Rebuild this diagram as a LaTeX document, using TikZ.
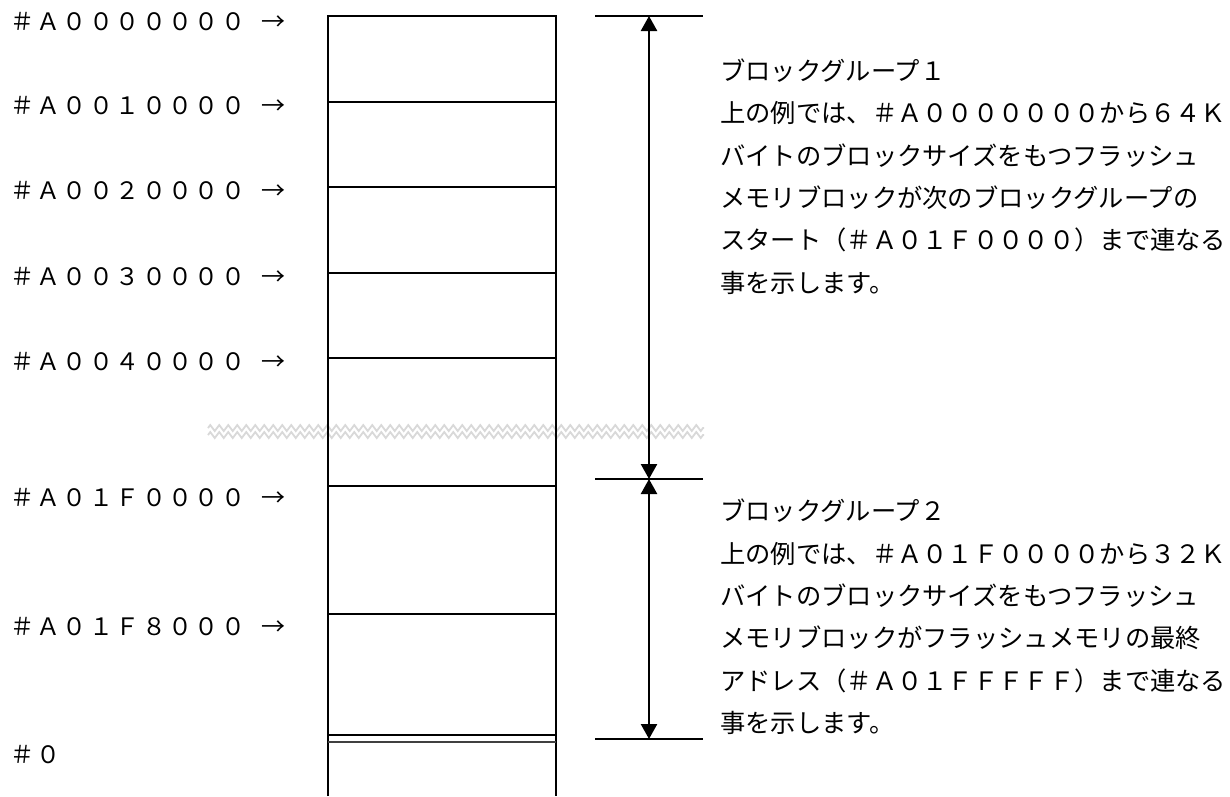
\documentclass[tikz,border=0pt]{standalone}
\usepackage{fontspec}
\newfontfamily\jp{Noto Sans CJK JP}
\newfontfamily\jpsp{Noto Sans CJK JP}[LetterSpace=10]
\usetikzlibrary{arrows.meta,decorations.pathmorphing}
\begin{document}
\begin{tikzpicture}[x=1pt,y=-1pt,
  addr/.style={anchor=base west, inner sep=0pt, font=\jpsp\fontsize{24}{24}\selectfont},
  desc/.style={anchor=base west, inner sep=0pt, font=\jp\fontsize{25.3}{25.3}\selectfont},
  memline/.style={line width=1.8pt},
  extline/.style={line width=1.6pt},
  dimarrow/.style={line width=2.4pt, {Triangle[width=16pt,length=15pt]}-{Triangle[width=16pt,length=15pt]}},
  breakwave/.style={decorate, decoration={zigzag, segment length=9pt, amplitude=3pt}, draw=black!15, line width=1.8pt}
]
\useasboundingbox (0,0) rectangle (1230,796);
\fill[white] (0,0) rectangle (1230,796);

% break marker (behind)
\coordinate (wa1) at (208,428);
\coordinate (wb1) at (704,428);
\coordinate (wa2) at (208,435);
\coordinate (wb2) at (704,435);
\draw[breakwave] (wa1) -- (wb1);
\draw[breakwave] (wa2) -- (wb2);

% memory column
\coordinate (tl) at (328.3,16);
\coordinate (tr) at (555.7,16);
\coordinate (bl) at (328.3,796);
\coordinate (br) at (555.7,796);
\draw[memline] (bl) -- (tl) -- (tr) -- (br);
\foreach \yy/\nm in {101.7/h1,187.3/h2,272.7/h3,358.3/h4,486/h5,614/h6,735/h7}{
  \coordinate (\nm l) at (328.3,\yy);
  \coordinate (\nm r) at (555.7,\yy);
  \draw[memline] (\nm l) -- (\nm r);
}
\coordinate (h8l) at (328.3,742);
\coordinate (h8r) at (555.7,742);
\draw[line width=1.3pt, black!75] (h8l) -- (h8r);

% address labels
\node[addr] (a1) at (10,30.1) {＃Ａ０００００００\hspace{16pt}→};
\node[addr] (a2) at (10,114.6) {＃Ａ００１００００\hspace{16pt}→};
\node[addr] (a3) at (10,199.6) {＃Ａ００２００００\hspace{16pt}→};
\node[addr] (a4) at (10,285.1) {＃Ａ００３００００\hspace{16pt}→};
\node[addr] (a5) at (10,370.6) {＃Ａ００４００００\hspace{16pt}→};
\node[addr] (a6) at (10,506.6) {＃Ａ０１Ｆ００００\hspace{16pt}→};
\node[addr] (a7) at (10,635.6) {＃Ａ０１Ｆ８０００\hspace{16pt}→};
\node[addr] (a8) at (10,763.6) {＃０};

% dimension lines
\coordinate (e1a) at (595,16);   \coordinate (e1b) at (703,16);
\coordinate (e2a) at (595,479);  \coordinate (e2b) at (703,479);
\coordinate (e3a) at (595,739);  \coordinate (e3b) at (703,739);
\draw[extline] (e1a) -- (e1b);
\draw[extline] (e2a) -- (e2b);
\draw[extline] (e3a) -- (e3b);
\coordinate (d1) at (649,16);
\coordinate (d2) at (649,479);
\coordinate (d3) at (649,739);
\draw[dimarrow] (d1) -- (d2);
\draw[dimarrow] (d2) -- (d3);

% group 1 text
\node[desc] (g1a) at (720,80.3) {ブロックグループ１};
\node[desc] (g1b) at (720,122.7) {上の例では、＃Ａ０００００００から６４Ｋ};
\node[desc] (g1c) at (720,165.1) {バイトのブロックサイズをもつフラッシュ};
\node[desc] (g1d) at (720,207.5) {メモリブロックが次のブロックグループの};
\node[desc] (g1e) at (720,249.9) {スタート（＃Ａ０１Ｆ００００）まで連なる};
\node[desc] (g1f) at (720,292.3) {事を示します。};

% group 2 text
\node[desc] (g2a) at (720,520.6) {ブロックグループ２};
\node[desc] (g2b) at (720,563.0) {上の例では、＃Ａ０１Ｆ００００から３２Ｋ};
\node[desc] (g2c) at (720,605.4) {バイトのブロックサイズをもつフラッシュ};
\node[desc] (g2d) at (720,647.8) {メモリブロックがフラッシュメモリの最終};
\node[desc] (g2e) at (720,690.2) {アドレス（＃Ａ０１ＦＦＦＦＦ）まで連なる};
\node[desc] (g2f) at (720,732.6) {事を示します。};
\end{tikzpicture}
\end{document}
